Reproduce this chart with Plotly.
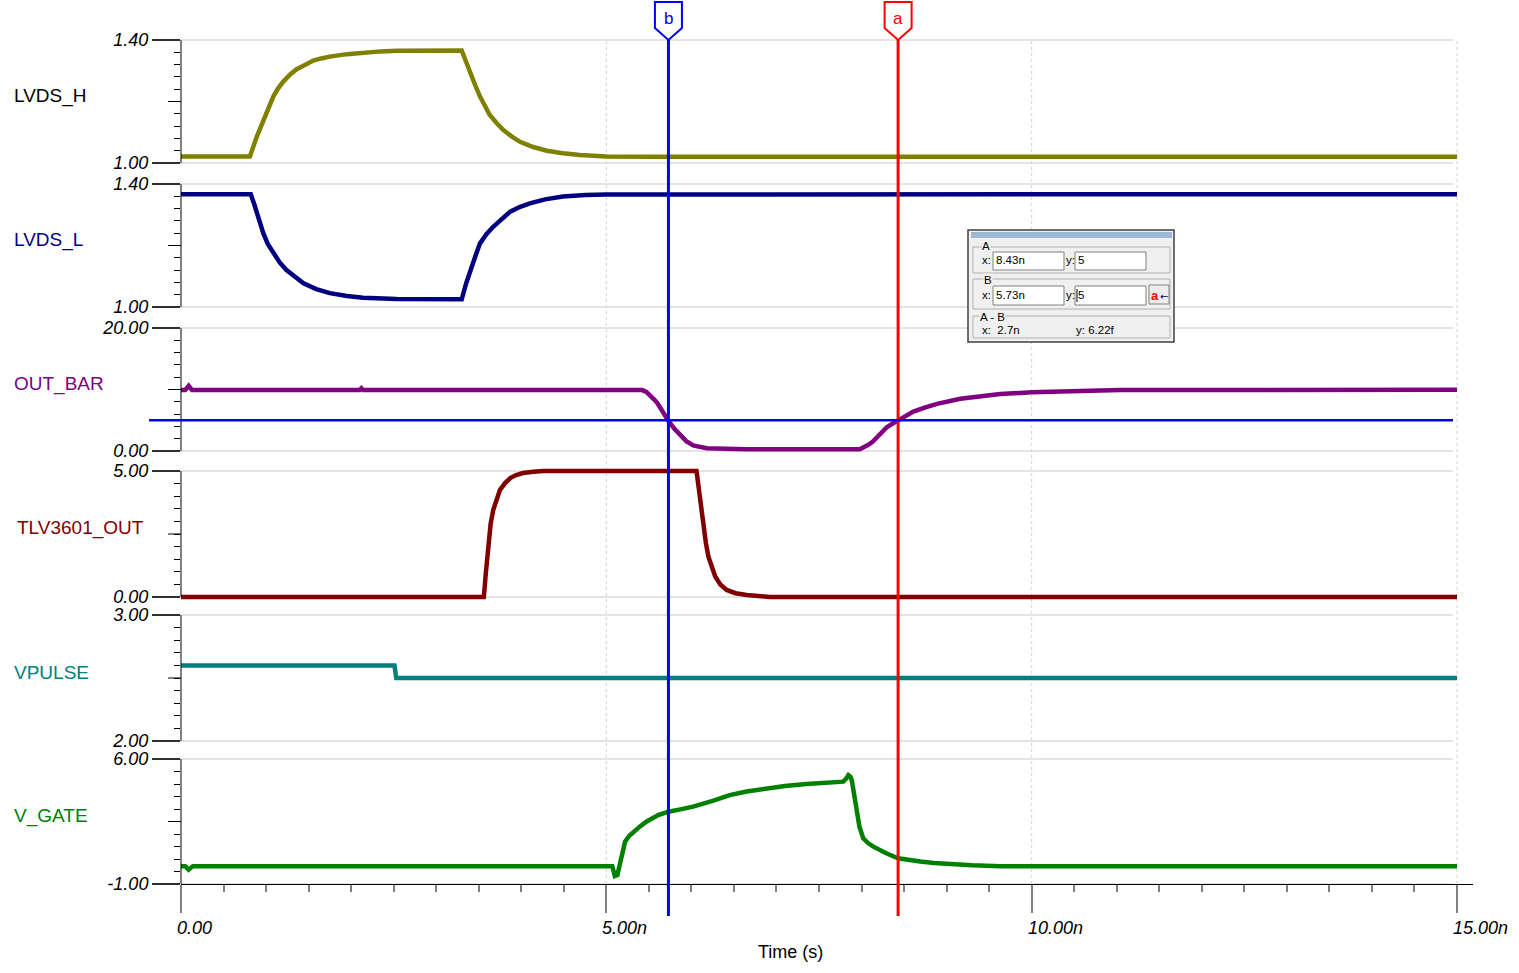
import plotly.graph_objects as go

# ---------------------------------------------------------------- data (time in ns)
lvds_h_t = [0.0, 0.81, 0.89, 0.967, 1.03, 1.085, 1.14, 1.20, 1.28, 1.36, 1.45, 1.555, 1.65,
            1.75, 1.95, 2.14, 2.35, 2.535, 2.9, 3.30,
            3.35, 3.40, 3.46, 3.515, 3.57, 3.63, 3.71, 3.79, 3.89, 3.985, 4.14, 4.30, 4.49,
            4.69, 5.0, 5.5, 15.0]
lvds_h_v = [1.021, 1.021, 1.085, 1.140, 1.180, 1.216, 1.242, 1.264, 1.287, 1.305, 1.318, 1.333,
            1.340, 1.346, 1.354, 1.359, 1.363, 1.365, 1.366, 1.366,
            1.330, 1.292, 1.252, 1.216, 1.185, 1.156, 1.130, 1.107, 1.086, 1.069, 1.052, 1.040,
            1.032, 1.026, 1.021, 1.020, 1.020]

lvds_l_t = [0.0, 0.82, 0.86, 0.89, 0.93, 0.967, 1.02, 1.085, 1.16, 1.24, 1.34, 1.44, 1.59,
            1.75, 1.95, 2.14, 2.535, 3.30,
            3.35, 3.40, 3.46, 3.515, 3.59, 3.67, 3.77, 3.87, 3.98, 4.10, 4.28, 4.49, 4.75,
            5.0, 15.0]
lvds_l_v = [1.367, 1.367, 1.335, 1.305, 1.270, 1.240, 1.205, 1.175, 1.145, 1.120, 1.097, 1.077,
            1.058, 1.045, 1.036, 1.030, 1.026, 1.025,
            1.075, 1.120, 1.165, 1.207, 1.237, 1.261, 1.288, 1.310, 1.325, 1.337, 1.350, 1.359,
            1.364, 1.366, 1.367]

out_bar_t = [0.0, 0.05, 0.09, 0.13, 2.1, 2.12, 2.14, 5.42, 5.47, 5.52, 5.56, 5.60, 5.66, 5.73,
             5.80, 5.87, 5.94, 6.02, 6.10, 6.18, 6.40, 6.65, 7.98, 8.03, 8.08, 8.13, 8.22,
             8.30, 8.42, 8.52, 8.61, 8.75, 8.90, 9.16, 9.40, 9.63, 10.0, 10.33, 10.7, 11.04,
             15.0]
out_bar_v = [9.9, 9.9, 10.6, 9.9, 9.9, 10.2, 9.9, 9.9, 9.6, 9.0, 8.4, 7.8, 6.4, 4.9,
             3.6, 2.6, 1.6, 0.9, 0.6, 0.45, 0.35, 0.3, 0.3, 0.6, 1.0, 1.5, 2.9,
             3.9, 4.9, 5.7, 6.4, 7.1, 7.7, 8.5, 8.95, 9.25, 9.55, 9.72, 9.85, 9.92,
             9.95]

tlv3601_t = [0.0, 3.56, 3.585, 3.61, 3.64, 3.67, 3.71, 3.75, 3.81, 3.87, 3.94, 4.02, 4.14,
             4.26, 6.06, 6.075, 6.09, 6.115, 6.14, 6.17, 6.20, 6.24, 6.28, 6.34, 6.415,
             6.52, 6.65, 6.92, 15.0]
tlv3601_v = [0.0, 0.0, 1.0, 2.11, 2.9, 3.45, 3.9, 4.25, 4.52, 4.72, 4.84, 4.92, 4.97,
             5.0, 5.0, 4.6, 4.12, 3.45, 2.79, 2.15, 1.60, 1.15, 0.81, 0.50, 0.28,
             0.15, 0.08, 0.0, 0.0]

vpulse_t = [0.0, 2.51, 2.53, 15.0]
vpulse_v = [2.6, 2.6, 2.5, 2.5]

v_gate_t = [0.0, 0.05, 0.09, 0.14, 5.07, 5.10, 5.13, 5.17, 5.22, 5.27, 5.32, 5.40, 5.47,
            5.54, 5.61, 5.67, 5.73, 5.87, 6.02, 6.25, 6.45, 6.65, 6.88, 7.10, 7.35, 7.60,
            7.785, 7.82, 7.845, 7.87, 7.885, 7.90, 7.92, 7.945, 7.975, 8.02, 8.08, 8.14,
            8.22, 8.29, 8.43, 8.55, 8.69, 8.85, 9.04, 9.30, 9.63, 15.0]
v_gate_v = [0.0, 0.0, -0.2, 0.0, 0.0, -0.55, -0.5, 0.4, 1.37, 1.70, 1.93, 2.24, 2.49,
            2.69, 2.86, 2.96, 3.05, 3.18, 3.33, 3.66, 3.98, 4.18, 4.36, 4.49, 4.60, 4.68,
            4.73, 4.90, 5.10, 5.00, 4.82, 4.40, 3.70, 2.90, 2.21, 1.56, 1.28, 1.09,
            0.89, 0.72, 0.44, 0.34, 0.26, 0.18, 0.12, 0.05, 0.0, 0.0]

signal_names = ["LVDS_H", "LVDS_L", "OUT_BAR", "TLV3601_OUT", "VPULSE", "V_GATE"]
y_ranges = [(1.0, 1.4), (1.0, 1.4), (0.0, 20.0), (0.0, 5.0), (2.0, 3.0), (-1.0, 6.0)]
y_tick_text = [("1.00", "1.40"), ("1.00", "1.40"), ("0.00", "20.00"),
               ("0.00", "5.00"), ("2.00", "3.00"), ("-1.00", "6.00")]

x_tick_vals = [0, 5, 10, 15]
x_tick_text = ["0.00", "5.00n", "10.00n", "15.00n"]

# cursors (x in ns, y in V)
cursor_a_x, cursor_a_y = 8.43, 5
cursor_b_x, cursor_b_y = 5.73, 5
cursor_diff_y_text = "6.22f"

# ---------------------------------------------------------------- styling / layout
series_t = [lvds_h_t, lvds_l_t, out_bar_t, tlv3601_t, vpulse_t, v_gate_t]
series_v = [lvds_h_v, lvds_l_v, out_bar_v, tlv3601_v, vpulse_v, v_gate_v]
line_colors = ["#808000", "#000080", "#800080", "#800000", "#008080", "#008000"]
label_colors = ["#000000", "#000080", "#800080", "#800000", "#008080", "#008000"]

W, H = 1519, 973
PAD = 3                                  # px of head-room so thick traces at the limits are not clipped
TOP_PX, AXIS_PX = 40, 884                # first panel top / time axis (px)
L, R, T, B = 181, 1473, TOP_PX - PAD, AXIS_PX + PAD
PW, PH = R - L, B - T
X_END_PX = 1457                          # pixel where 15 ns sits
x_max = 15.0 * PW / (X_END_PX - L)


def px(x):
    return (x - L) / PW


def py(y):
    return (B - y) / PH


panel_px = [(40, 163), (184, 307), (328, 451), (471, 597), (615, 741), (759, 884)]
label_px = [(12, 96), (12, 240), (12, 384), (15, 528), (12, 672), (12, 816)]

FONT = "Liberation Sans, Arial, sans-serif"
fig = go.Figure()
shapes = []
annotations = []

for i, (name, t, v, col) in enumerate(zip(signal_names, series_t, series_v, line_colors)):
    yid = "y" if i == 0 else f"y{i + 1}"
    fig.add_trace(go.Scatter(x=t, y=v, mode="lines", name=name,
                             line=dict(color=col, width=4.5), xaxis="x", yaxis=yid,
                             showlegend=False, hoverinfo="skip"))
    lo, hi = y_ranges[i]
    top, bot = panel_px[i]
    pad_v = (hi - lo) * PAD / (bot - top)
    axname = "yaxis" if i == 0 else f"yaxis{i + 1}"
    fig.update_layout({axname: dict(
        domain=[py(bot + PAD), py(top - PAD)], range=[lo - pad_v, hi + pad_v], anchor="x",
        showline=False,
        ticks="outside", tickmode="array", tickvals=[lo, hi], ticktext=list(y_tick_text[i]),
        ticklen=28, tickwidth=1.5, tickcolor="#303030",
        tickfont=dict(family=FONT, size=18, color="#000000", style="italic"),
        minor=dict(ticks="outside", ticklen=6, tickwidth=1, tickcolor="#000000",
                   tickmode="linear", tick0=lo, dtick=(hi - lo) / 10, showgrid=False),
        showgrid=False, zeroline=False, fixedrange=True)})
    # axis spine between the panel limits
    shapes.append(dict(type="line", xref="paper", yref=yid, x0=0, x1=0, y0=lo, y1=hi,
                       line=dict(color="#000000", width=1)))
    # horizontal grid at the panel limits
    for yy in (lo, hi):
        shapes.append(dict(type="line", xref="paper", yref=yid,
                           x0=0, x1=px(1453), y0=yy, y1=yy, layer="below",
                           line=dict(color="#c8c8c8", width=1)))
    # longer tick at mid-scale
    mid = (lo + hi) / 2
    shapes.append(dict(type="line", xref="paper", yref=yid, x0=-13 / PW, x1=0,
                       y0=mid, y1=mid, line=dict(color="#000000", width=1)))
    # signal name
    lx, ly = label_px[i]
    annotations.append(dict(xref="paper", yref="paper", x=px(lx), y=py(ly), xanchor="left",
                            yanchor="middle", text=name, showarrow=False,
                            font=dict(family=FONT, size=19, color=label_colors[i])))

fig.update_layout(xaxis=dict(
    domain=[0, 1], range=[0, x_max], anchor="free", position=py(AXIS_PX),
    showline=True, linecolor="#000000", linewidth=1,
    ticks="outside", tickmode="array", tickvals=x_tick_vals, ticklen=28, tickwidth=2,
    tickcolor="#808080", showticklabels=False,
    minor=dict(ticks="outside", ticklen=7, tickwidth=2, tickcolor="#808080",
               tickmode="linear", tick0=0, dtick=0.5, showgrid=False),
    showgrid=False, zeroline=False, fixedrange=True))

# dotted vertical grid
for xv in x_tick_vals[1:]:
    shapes.append(dict(type="line", xref="x", yref="paper", x0=xv, x1=xv,
                       y0=py(AXIS_PX), y1=py(TOP_PX),
                       layer="below", line=dict(color="#d4d4d4", width=1, dash="dot")))

# x tick labels and axis title
for xv, tx in zip(x_tick_vals, x_tick_text):
    annotations.append(dict(xref="x", yref="paper", x=xv, y=py(928), xanchor="left",
                            yanchor="middle", xshift=-6, text=tx, showarrow=False,
                            font=dict(family=FONT, size=18, color="#000000", style="italic")))
annotations.append(dict(xref="paper", yref="paper", x=px(790), y=py(952), xanchor="center",
                        yanchor="middle", text="Time (s)", showarrow=False,
                        font=dict(family=FONT, size=18, color="#000000")))

# ---------------------------------------------------------------- cursors
hw = 13.5 * x_max / PW
for cx, lab, col in [(cursor_b_x, "b", "#0000ff"), (cursor_a_x, "a", "#ff0000")]:
    shapes.append(dict(type="line", xref="x", yref="paper", x0=cx, x1=cx,
                       y0=py(916), y1=py(40), line=dict(color=col, width=3)))
    path = (f"M {cx - hw},{py(2)} L {cx + hw},{py(2)} L {cx + hw},{py(28)} "
            f"L {cx},{py(40)} L {cx - hw},{py(28)} Z")
    shapes.append(dict(type="path", xref="x", yref="paper", path=path,
                       fillcolor="#ffffff", line=dict(color=col, width=2)))
    annotations.append(dict(xref="x", yref="paper", x=cx, y=py(19), text=lab,
                            showarrow=False, xanchor="center", yanchor="middle",
                            font=dict(family=FONT, size=17, color=col)))

# horizontal cursor level on OUT_BAR
shapes.append(dict(type="line", xref="paper", yref="y3", x0=px(149), x1=px(1453),
                   y0=cursor_b_y, y1=cursor_b_y, line=dict(color="#0000ff", width=2.5)))

# ---------------------------------------------------------------- cursor readout box


def rect(x0, y0, x1, y1, fill, line="#808080", lw=1):
    shapes.append(dict(type="rect", xref="paper", yref="paper",
                       x0=px(x0), x1=px(x1), y0=py(y1), y1=py(y0),
                       fillcolor=fill, line=dict(color=line, width=lw)))


def txt(x, y, s, color="#000000", size=11.5, bg=None, anchor="left", family=FONT):
    d = dict(xref="paper", yref="paper", x=px(x), y=py(y), text=s, showarrow=False,
             xanchor=anchor, yanchor="middle",
             font=dict(family=family, size=size, color=color), borderpad=0)
    if bg:
        d["bgcolor"] = bg
    annotations.append(d)


rect(968, 230, 1174, 342, "#f0f0f0", "#404040", 1.5)
rect(971, 232, 1172, 238, "#9db8d6", "#9db8d6", 0)
rect(973, 247, 1170, 273, "rgba(0,0,0,0)", "#b0b0b0")
rect(973, 279, 1170, 309, "rgba(0,0,0,0)", "#b0b0b0")
rect(973, 316, 1170, 338, "rgba(0,0,0,0)", "#b0b0b0")
rect(993, 252, 1064, 270, "#ffffff", "#808080")
rect(1075, 252, 1146, 270, "#ffffff", "#808080")
rect(993, 286, 1064, 305, "#ffffff", "#808080")
rect(1075, 286, 1146, 305, "#ffffff", "#808080")
rect(1149, 285, 1169, 304, "#ececec", "#808080")
shapes.append(dict(type="line", xref="paper", yref="paper", x0=px(1077), x1=px(1077),
                   y0=py(289), y1=py(302), line=dict(color="#000000", width=1)))

txt(981, 246, "A", bg="#f0f0f0")
txt(981, 260, "x:")
txt(995, 260, f"{cursor_a_x:.2f}n")
txt(1065, 260, "y:")
txt(1077, 260, f"{cursor_a_y}")
txt(983, 280, "B", bg="#f0f0f0")
txt(981, 295, "x:")
txt(995, 295, f"{cursor_b_x:.2f}n")
txt(1065, 295, "y:")
txt(1077, 295, f"{cursor_b_y}")
txt(1150, 295, "<b>a</b>", color="#ff0000", size=13)
txt(1159, 296, "\u2190", color="#000080", size=10, family="DejaVu Sans")
txt(979, 317, "A - B", bg="#f0f0f0")
txt(981, 330, f"x:  {cursor_a_x - cursor_b_x:.1f}n")
txt(1075, 330, f"y: {cursor_diff_y_text}")

fig.update_layout(
    width=W, height=H,
    margin=dict(l=L, r=W - R, t=T, b=H - B, pad=0),
    paper_bgcolor="#ffffff", plot_bgcolor="#ffffff",
    shapes=shapes, annotations=annotations, showlegend=False,
    font=dict(family=FONT),
)

fig.write_html("out.html", config={"displayModeBar": False})
